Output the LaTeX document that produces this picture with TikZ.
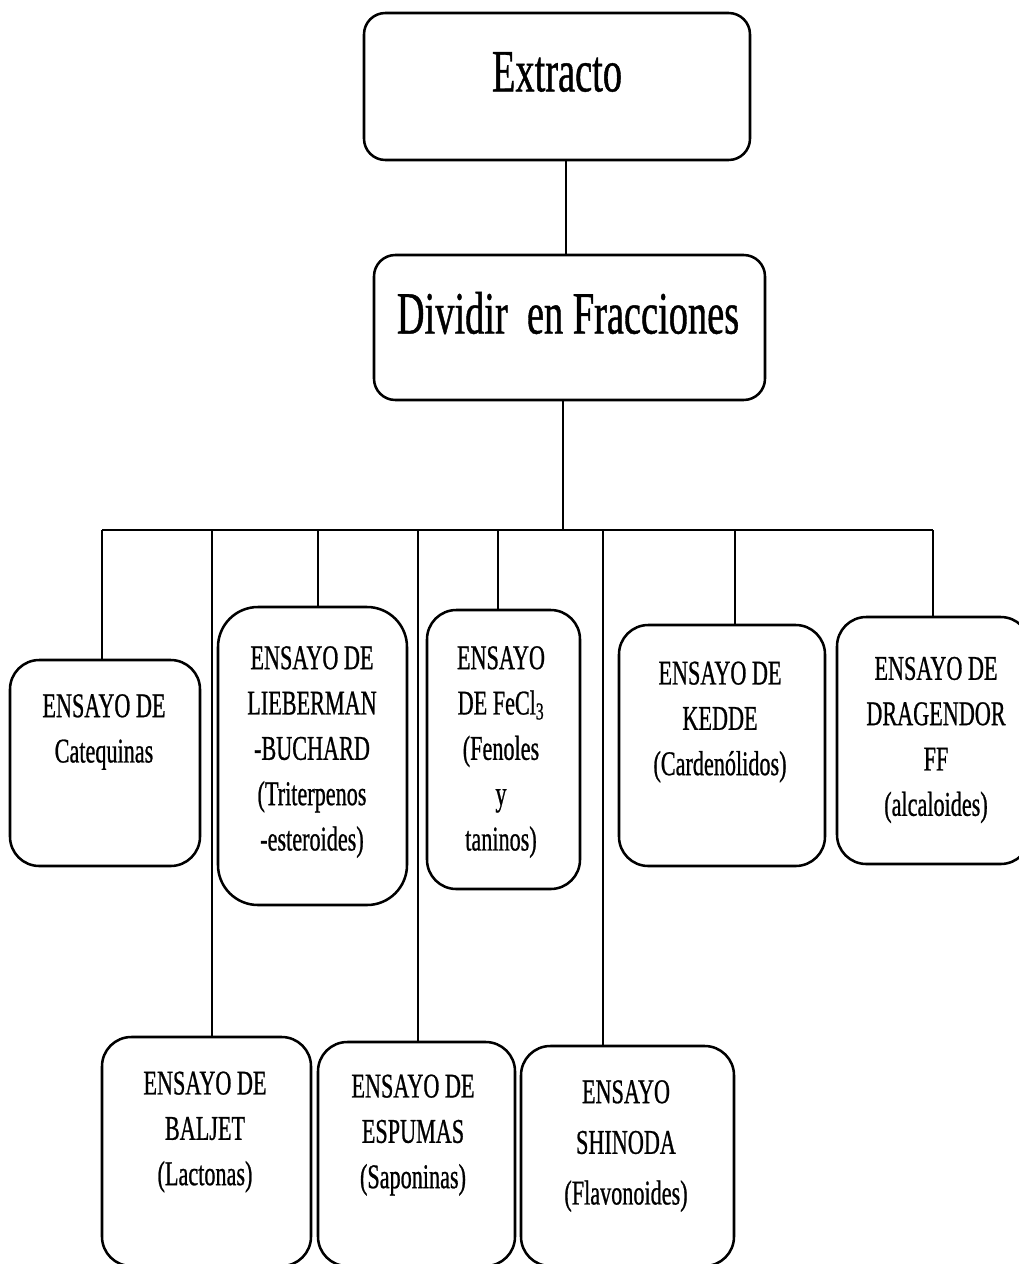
\documentclass[tikz,border=0pt]{standalone}
\usepackage{fontspec}
\setmainfont{Liberation Serif}[FakeStretch=0.64,FakeBold=0.7]
\usetikzlibrary{fit}
\begin{document}
\begin{tikzpicture}[x=0.75pt,y=-0.75pt,
  box/.style={draw, line width=1.9pt, rounded corners=22pt, inner sep=0pt},
  bigbox/.style={box, rounded corners=16pt},
  conn/.style={line width=1.4pt},
  lbl/.style={align=center, inner sep=0pt, font=\fontsize{26}{34}\selectfont},
  biglbl/.style={align=center, inner sep=0pt, font=\fontsize{45}{50}\selectfont}]
\useasboundingbox (0,0) rectangle (1019,1264);
\begin{scope}
\clip (0,0) rectangle (1019,1264);
% top boxes
\node[bigbox, fit={(364,13) (750,160)}] (ext) {};
\node[biglbl] (extT) at (557,72) {Extracto};
\node[bigbox, fit={(374,255) (765,400)}] (div) {};
\node[biglbl] (divT) at (568,313) {Dividir\ \ en Fracciones};
% upper row
\node[box, fit={(10,660) (200,866)}] (cat) {};
\node[lbl] (catT) at (104,732) {ENSAYO\ DE\\Catequinas};
\node[box, rounded corners=30pt, fit={(218,607) (407,905)}] (lieb) {};
\node[lbl] (liebT) at (312,752) {ENSAYO\ DE\\LIEBERMAN\\-BUCHARD\\(Triterpenos\\-esteroides)};
\node[box, fit={(427,610) (580,889)}] (fecl) {};
\node[lbl] (feclT) at (501,752) {ENSAYO\\DE FeCl\textsubscript{3}\\(Fenoles\\y\\taninos)};
\node[box, fit={(619,625) (825,866)}] (kedde) {};
\node[lbl] (keddeT) at (720,722) {ENSAYO\ DE\\KEDDE\\(Cardenólidos)};
\node[box, fit={(837,617) (1030,864)}] (drag) {};
\node[lbl] (dragT) at (936,740) {ENSAYO\ DE\\DRAGENDOR\\FF\\(alcaloides)};
% lower row
\node[box, fit={(102,1037) (311,1266)}] (balj) {};
\node[lbl] (baljT) at (205,1132) {ENSAYO\ DE\\BALJET\\(Lactonas)};
\node[box, fit={(318,1042) (515,1266)}] (esp) {};
\node[lbl] (espT) at (413,1135) {ENSAYO\ DE\\ESPUMAS\\(Saponinas)};
\node[box, fit={(521,1046) (734,1266)}] (shin) {};
\node[lbl, font=\fontsize{26}{38}\selectfont] (shinT) at (626,1146) {ENSAYO\\SHINODA\\(Flavonoides)};
\end{scope}
% connectors
\coordinate (x0) at (566,0);
\coordinate (x00) at (563,0);
\coordinate (busL) at (102,530);
\coordinate (busR) at (933,530);
\coordinate (d1) at (102,530);
\coordinate (d2) at (212,530);
\coordinate (d3) at (318,530);
\coordinate (d4) at (418,530);
\coordinate (d5) at (498,530);
\coordinate (d6) at (603,530);
\coordinate (d7) at (735,530);
\coordinate (d8) at (933,530);
\draw[conn] (ext.south -| x0) -- (div.north -| x0);
\draw[conn] (div.south -| x00) -- (busL -| x00);
\draw[conn, line width=1.8pt] (busL) -- (busR);
\draw[conn] (d1) -- (cat.north -| d1);
\draw[conn] (d2) -- (balj.north -| d2);
\draw[conn] (d3) -- (lieb.north -| d3);
\draw[conn] (d4) -- (esp.north -| d4);
\draw[conn] (d5) -- (fecl.north -| d5);
\draw[conn] (d6) -- (shin.north -| d6);
\draw[conn] (d7) -- (kedde.north -| d7);
\draw[conn] (d8) -- (drag.north -| d8);
\end{tikzpicture}
\end{document}
